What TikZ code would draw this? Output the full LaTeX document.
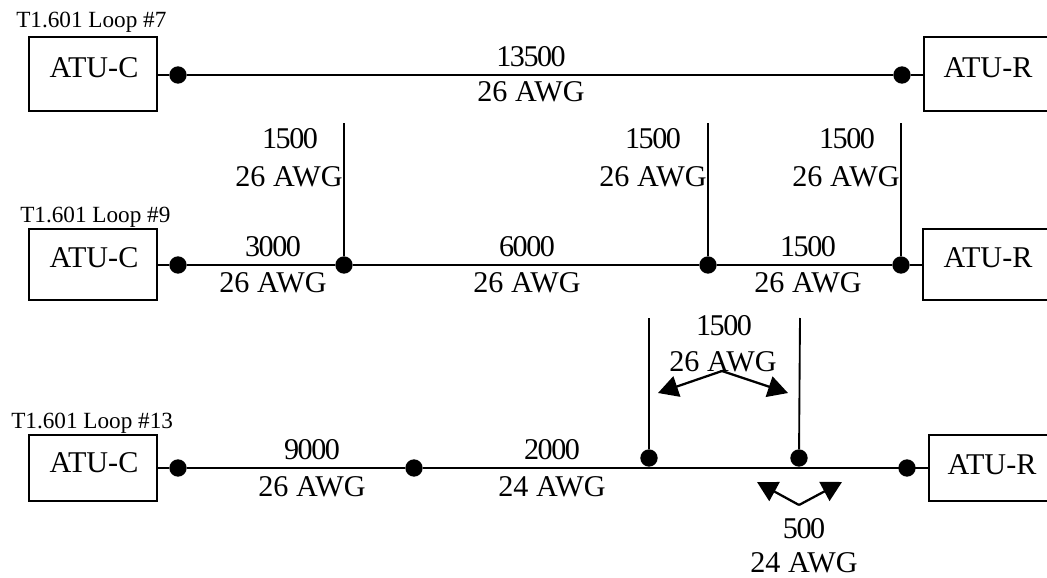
\documentclass[tikz,border=0pt]{standalone}
\usepackage{fontspec}
\setmainfont{Liberation Serif}
\usetikzlibrary{arrows.meta}
\tikzset{
  px/.style={x=0.75pt,y=-0.75pt},
  atu/.style={draw,line width=1.7pt,minimum width=96pt,minimum height=55.5pt,inner sep=0pt},
  lbl/.style={inner sep=0pt,font=\fontsize{22.6}{24}\selectfont,align=center,text depth=0pt},
  num/.style={inner sep=0pt,font=\fontsize{22.6}{24}\selectfont\addfontfeatures{LetterSpace=-5},align=center,text depth=0pt},
  small/.style={inner sep=0pt,font=\fontsize{17.4}{19}\selectfont},
  dot/.style={circle,fill=black,draw=none,minimum size=13pt,inner sep=0pt},
  wire/.style={line width=1.9pt},
  stub/.style={line width=1.4pt},
  tick/.style={line width=1.7pt,-{Triangle[length=15pt,width=16pt]}}
}
\begin{document}
\begin{tikzpicture}[px]
\useasboundingbox (0,0) rectangle (1047,578);
% row 1
\node[small,anchor=west] (t7) at (16,22) {T1.601 Loop \#7};
\node[atu] (c1) at (93,74) {};
\node[lbl] (c1l) at (94,68) {ATU-C};
\node[atu,minimum width=130pt,anchor=west] (r1) at (923,74) {};
\node[lbl] (r1l) at (988,68) {ATU-R};
\node[dot] (d11) at (178,75) {};
\node[dot] (d12) at (902,75) {};
\draw[wire] (c1.east |- d11) -- (d11) -- (d12) -- (r1.west |- d12);
\node[num] (a1) at (531,56) {13500};
\node[lbl] (b1) at (531,92) {26 AWG};
% row 2
\node[small,anchor=west] (t9) at (20,217) {T1.601 Loop \#9};
\node[atu,minimum height=53.25pt] (c2) at (93,264.5) {};
\node[lbl] (c2l) at (94,258) {ATU-C};
\node[atu,minimum width=130pt,minimum height=53.25pt,anchor=west] (r2) at (922,264.5) {};
\node[lbl] (r2l) at (988,258) {ATU-R};
\node[dot] (d21) at (178,265) {};
\node[dot] (d22) at (344,265) {};
\node[dot] (d23) at (708,265) {};
\node[dot] (d24) at (901,265) {};
\coordinate (s1) at (344,123);
\coordinate (s2) at (708,123);
\coordinate (s3) at (901,123);
\draw[wire] (c2.east |- d21) -- (d21) -- (d22) -- (d23) -- (d24) -- (r2.west |- d24);
\draw[stub] (s1) -- (d22);
\draw[stub] (s2) -- (d23);
\draw[stub] (s3) -- (d24);
\node[num] (a21) at (290,138) {1500};
\node[lbl] (b21) at (289,177) {26 AWG};
\node[num] (a22) at (653,138) {1500};
\node[lbl] (b22) at (653,177) {26 AWG};
\node[num] (a23) at (847,138) {1500};
\node[lbl] (b23) at (846,177) {26 AWG};
\node[num] (a24) at (273,246) {3000};
\node[lbl] (b24) at (273,283) {26 AWG};
\node[num] (a25) at (527,246) {6000};
\node[lbl] (b25) at (527,283) {26 AWG};
\node[num] (a26) at (808,246) {1500};
\node[lbl] (b26) at (808,283) {26 AWG};
% row 3
\node[small,anchor=west] (t13) at (11,423) {T1.601 Loop \#13};
\node[atu,minimum height=50pt] (c3) at (93,468) {};
\node[lbl] (c3l) at (94,463) {ATU-C};
\node[atu,minimum width=126pt,minimum height=50pt,anchor=west] (r3) at (928,468) {};
\node[lbl] (r3l) at (992,465) {ATU-R};
\node[dot] (d31) at (178,468) {};
\node[dot] (d32) at (414,468) {};
\node[dot] (d33) at (649,458) {};
\node[dot] (d34) at (799,458) {};
\node[dot] (d35) at (907,468) {};
\coordinate (s4) at (649,318);
\coordinate (s5) at (800,318);
\draw[wire] (c3.east |- d31) -- (d31) -- (d32) -- (r3.west |- d32);
\draw[stub] (s4) -- (d33);
\draw[stub] (s5) -- (d34);
\node[num] (a31) at (312,449) {9000};
\node[lbl] (b31) at (312,487) {26 AWG};
\node[num] (a32) at (552,449) {2000};
\node[lbl] (b32) at (552,487) {24 AWG};
\node[num] (a33) at (724,325) {1500};
\node[lbl] (b33) at (723,362) {26 AWG};
\node[num] (a34) at (804,528) {500};
\node[lbl] (b34) at (804,563) {24 AWG};
% arrows
\coordinate (o1) at (722,371);
\coordinate (h1) at (658,393);
\coordinate (h2) at (788,393);
\draw[tick] (o1) -- (h1);
\draw[tick] (o1) -- (h2);
\coordinate (o2) at (799,505);
\coordinate (h3) at (757,482);
\coordinate (h4) at (842,482);
\draw[tick] (o2) -- (h3);
\draw[tick] (o2) -- (h4);
\end{tikzpicture}
\end{document}
